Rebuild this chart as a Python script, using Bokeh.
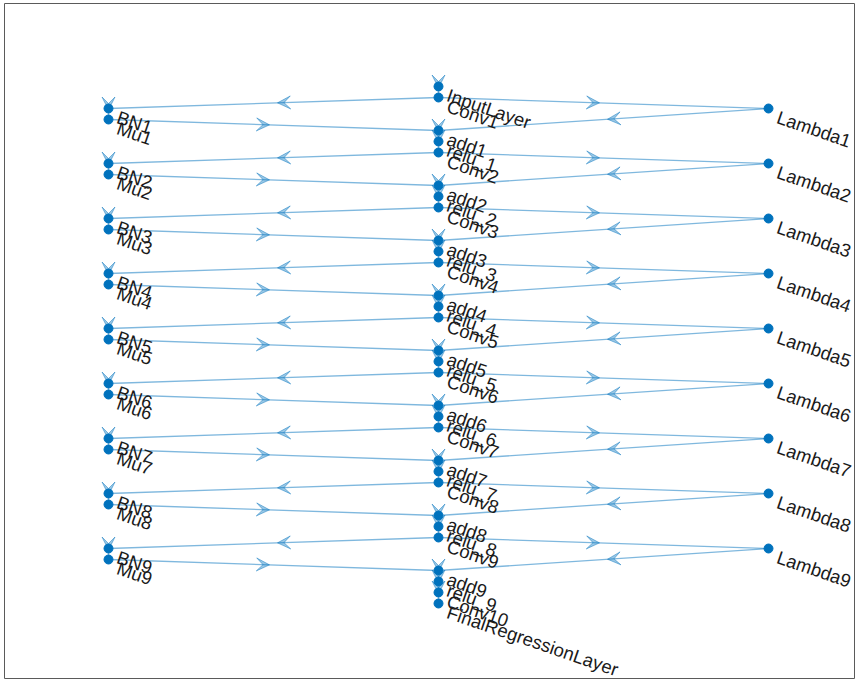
import math
from bokeh.plotting import figure
from bokeh.models import ColumnDataSource, Arrow, VeeHead, Range1d
from bokeh.core.properties import value
from bokeh.embed import file_html
from bokeh.resources import INLINE

# ---- graph data (layer graph of the network) ----
n_blocks = 9
block_ids = list(range(1, n_blocks + 1))

# node name, column (1 = left, 2 = centre, 3 = right), layer index (top = 0)
node_names = ["InputLayer", "Conv1"]
node_cols = [2, 2]
node_layers = [0, 1]
edges_src = ["InputLayer"]
edges_dst = ["Conv1"]
for i in block_ids:
    base = 5 * i
    node_names += [f"BN{i}", f"Lambda{i}", f"Mu{i}", f"add{i}", f"relu_{i}", f"Conv{i+1}"]
    node_cols += [1, 3, 1, 2, 2, 2]
    node_layers += [base - 3, base - 3, base - 2, base - 1, base, base + 1]
    edges_src += [f"Conv{i}", f"BN{i}", f"Mu{i}", f"Conv{i}", f"Lambda{i}", f"add{i}", f"relu_{i}"]
    edges_dst += [f"BN{i}", f"Mu{i}", f"add{i}", f"Lambda{i}", f"add{i}", f"relu_{i}", f"Conv{i+1}"]
node_names.append("FinalRegressionLayer")
node_cols.append(2)
node_layers.append(5 * n_blocks + 2)
edges_src.append(f"Conv{n_blocks+1}")
edges_dst.append("FinalRegressionLayer")

pos = {n: (c, l) for n, c, l in zip(node_names, node_cols, node_layers)}

BLUE = "#0072BD"

# layout geometry
W, H = 855, 679
BL, BT = 4, 3
PX_X = 330.0   # pixels per column unit
PX_Y = 11.0    # pixels per layer
X1_PIX = 108.0  # pixel of column 1
Y0_PIX = 86.0   # pixel of layer 0

fw = W - BL
fh = H - BT
x_start = 1 - (X1_PIX - BL) / PX_X
x_end = x_start + fw / PX_X
y_top = -(Y0_PIX - BT) / PX_Y
y_bot = y_top + fh / PX_Y

p = figure(width=W, height=H, output_backend="svg", toolbar_location=None,
           x_range=Range1d(x_start, x_end), y_range=Range1d(y_bot, y_top),
           min_border=0, min_border_left=BL, min_border_right=0,
           min_border_top=BT, min_border_bottom=0)
p.axis.visible = False
p.grid.visible = False
p.outline_line_color = "#5a5a5a"
p.outline_line_width = 1
p.background_fill_color = "white"
p.border_fill_color = "white"

x0 = [pos[s][0] for s in edges_src]
y0 = [pos[s][1] for s in edges_src]
x1 = [pos[d][0] for d in edges_dst]
y1 = [pos[d][1] for d in edges_dst]
xt, yt = [], []
for a, b, c, d in zip(x0, y0, x1, y1):
    L = math.hypot((c - a) * PX_X, (d - b) * PX_Y)
    t = 0.5 - 4.0 / L
    xt.append(a + t * (c - a))
    yt.append(b + t * (d - b))

esrc = ColumnDataSource(dict(x0=x0, y0=y0, x1=x1, y1=y1, xt=xt, yt=yt))
p.segment("x0", "y0", "x1", "y1", source=esrc, line_color=BLUE, line_alpha=0.5, line_width=1.3)
p.add_layout(Arrow(x_start="x0", y_start="y0", x_end="xt", y_end="yt", source=esrc,
                   line_alpha=0,
                   end=VeeHead(size=13, fill_color=BLUE, fill_alpha=0.4,
                               line_color=BLUE, line_alpha=0.45, line_width=1)))

nsrc = ColumnDataSource(dict(x=[pos[n][0] for n in node_names],
                             y=[pos[n][1] for n in node_names],
                             name=node_names))
p.scatter("x", "y", source=nsrc, size=9, fill_color=BLUE, line_color=BLUE)
p.text("x", "y", text="name", source=nsrc, angle=-19, angle_units="deg",
       x_offset=9, y_offset=8, text_align="left", text_baseline="middle",
       text_font=value("Liberation Sans"), text_font_size="18.5px", text_color="#1a1a1a")

open("out.html", "w").write(file_html(p, INLINE))
